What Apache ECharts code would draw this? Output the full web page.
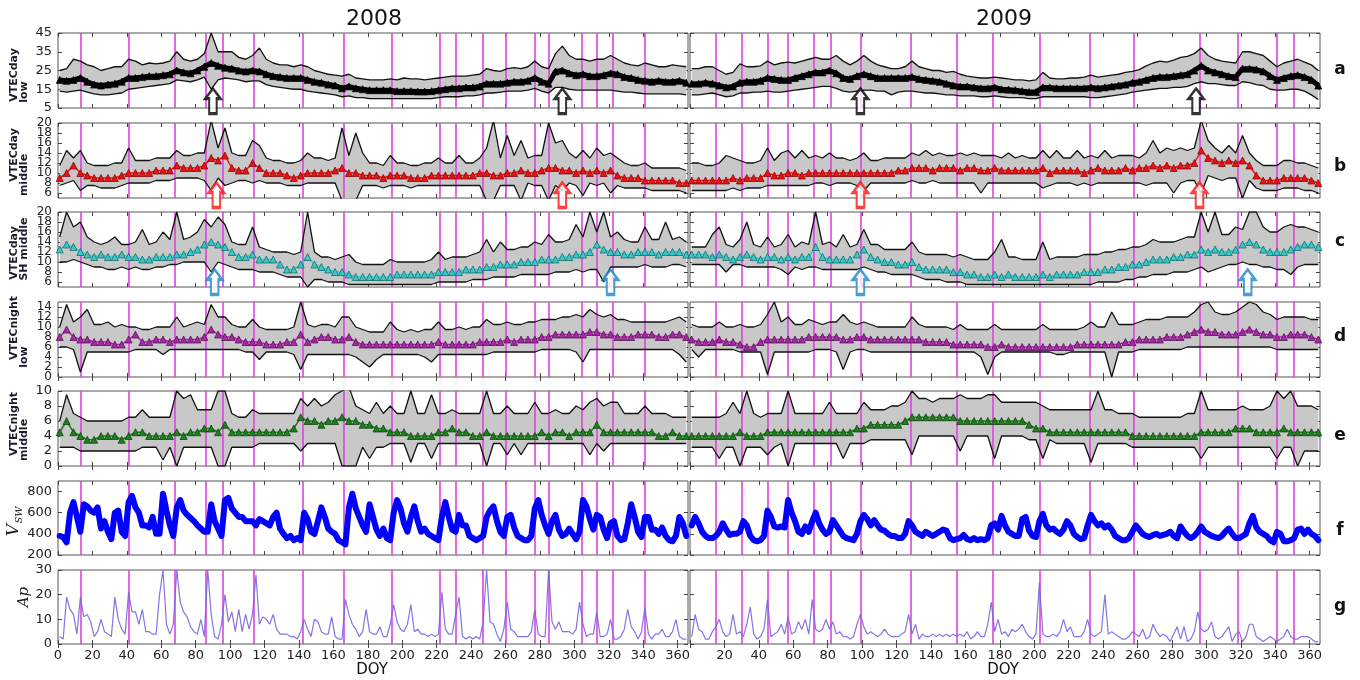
<!DOCTYPE html>
<html><head><meta charset="utf-8">
<script src="https://cdn.jsdelivr.net/npm/echarts@6/dist/echarts.min.js"></script>
<style>html,body{margin:0;padding:0;background:#fff}#c{width:1360px;height:680px}</style>
</head><body><div id="c"></div>
<script>
// ---------------- DATA (VTEC panels sampled every 4 days starting DOY 1) ----------------
const a08m=[20,19.5,20,21,19,17.5,17,17.5,18,19,21,21,21.5,22,22,22.5,23,25,24,23.5,25,27,29,27.5,26.5,26,25,24.5,25,24.5,23,22,21.5,21,21,21,20,19,18.5,17.5,17,15.5,16.5,15.5,15,14.5,14.5,14.5,14.5,14,14,14,13.8,13.8,14,14.5,15,15.5,15.5,16,16,16.5,18,18,18,18.5,19,19,19.5,21,19,18,24.5,25,23.5,22.5,23,22,22,22.5,23.5,23,21.5,21,20,19.5,19,19.5,19,19,19.5,18.5];
const a08u=[25,26,31,30,28,27,25,26,27,27,31,30,28,29,28.5,29,30,35,31,30,31,34,45,35,35,35,32,31,33,37,31,29,28,28,27,28,27,25,24,23,22.5,22,23,21,20.5,20,20,20,20.5,20,21,20.5,20.5,20,20.5,21,21.5,22,22,22,22.5,23,26,25,24.5,26,26.5,26,27,30,27,26,34,38,33,31,31,30,31,31,33,31,29,28,27.5,29,28,27,27,28,27.5,27];
const a08l=[14,13.5,14,14.5,13.5,12.5,12,12,12.5,13,15,15.5,16,16.5,17,17.5,18,20,19.5,19,20,21.5,15,20,21,20.5,20,19,19.5,19.5,17.5,16.5,16,15.5,15,15,14,13.5,13,12.5,12,11,11.5,10.5,10.5,10,10,10,10,10,10,10,10,10,10,10.5,11,11,11,11.5,11.5,12,13,13,13.5,14,14,14,14.5,15.5,14,13,16,16,15,14.5,14.5,14.5,14.5,14.5,14.5,14,13.5,13.5,13,12.5,12.5,12.5,12.5,12.5,12.5,12];
const a09m=[18,18,18.5,18,17,16,16.5,18.5,19,19,19.5,21,20.5,20,20,21,22,23,24,24,25,23.5,21,20.5,22,23,22,21,21,21,21,21,21.5,20.5,20,19.5,19,18,17,16.5,16.5,16,15.5,15.5,16,15,14.8,14.5,14,13.5,13.5,16,16,15.5,15.5,15.5,15.5,15.5,16,15.5,16,16.5,17,17.5,18.5,19,20,21,21.5,21.5,22,22.5,23,25,27.5,25,24,23,22,21.5,26,26,25.5,24.5,22,20,21,22,22.5,21.5,20,17];
const a09u=[26,26,27,27,25,23,24,28.5,27,27,27.5,30,28,29,29.5,29,30,31,32,31,31,33,30,28,30,33,30,28,27,26,26,27,30,27,26,25,25,24,24.5,23,22,21.5,21,21,21.5,21,20.5,20,20,19.5,20,24,21,20.5,20.5,21,21,21.5,22.5,21.5,22,22.5,23,24,24.5,25.5,27.5,29,30,29.5,30.5,32,32.5,34,37,33,31,30,29.5,29,35,35,34,33,30,27,29,30,31,29.5,28,25];
const a09l=[12,12,12.5,13,12,11,11.5,13,13,13.5,13.5,14,13.5,13.5,14,14.5,15,15.5,16,16.5,16.5,15.5,14,13.5,14,14.5,14.5,14,14,12,13.5,14,14,13.5,13,13,12.5,12,12,11.5,11.5,11.5,11,11,11.5,11,10.5,10.5,10.5,10,10,11,11,11,11,11,11,11,10.5,10.5,11,11.5,12,12.5,13.5,14,14.5,15,15.5,15.5,16,16,16.5,18,19,18,18,17.5,17,17,19,18.5,17.5,17,15,14.5,14.5,15,15,14,12,9.5];

const b08m=[9,10,11.5,10,9.5,9,9,9,9,9.5,10,10,10,10,10.5,10.5,10.5,11.5,11,11,11,11.5,13,12.5,13.5,11,10.5,10.5,12,11,10,10,10,9.5,9,9.5,10,10,10,10,10.5,11,10,10,9.5,9.5,9.5,9,9.5,9.5,9.5,9,9,9,9.5,9.5,9.5,9.5,9.5,9.5,9.5,10,10,9.5,9.5,10,10,10.5,10,10,10.5,11,11,10.5,10.5,10,10.5,10,10.5,10,10.5,9.5,9,9,9,8.5,8.5,8.5,8.5,8.5,8,8];
const b08u=[11.5,14.5,13,14.5,12,11.5,11.5,11.5,12,12,15,12.5,12.5,12.5,13,13,13,14.5,13.5,13.5,14,14,20.5,15,19,14,13.5,13.5,16.5,15.5,13,12.5,12.5,12,12,12.5,14,13,13,12.5,13,19,13.5,18,14,12,12,11.5,13.5,12,12,11.5,11.5,12,12,13,12,12,13.5,12,12,13,15,20.5,13,17.5,13.5,16.5,13,13.5,13.5,20,16,16.5,14,13,14.5,13,15,13.5,14,13,12,11.5,11.5,12,11,11,11,11,11,10.5];
const b08l=[7.5,8,8.5,6.5,7.5,7.5,7,7,7,7.5,8,8,8,8,8.5,8.5,8.5,9,9,9,9,8.5,6.5,9,7.5,8,8.5,8.5,8,8.5,8,8,8,7.5,7.5,7.5,8,8,8,8,8,4.5,4.5,4.5,7.5,7.5,7.5,7,7.5,7.5,7.5,7,7.5,7.5,7.5,7.5,7.5,7.5,7.5,7.5,7.5,7.5,4.5,4.5,7.5,7.5,7.5,4.5,8,7.5,7.5,4.5,7.5,6.5,8,7.5,5.5,8,7.5,8,6,7.5,7,7,7,7,6.5,6.5,6.5,6.5,6.5,6];
const b09m=[8.5,8.5,8.5,8.5,8.5,8.5,9,8.5,9,9,9,10,9.5,9.5,10,10,9.5,10,10,10,10,10,10,10,10,10,10,10,10,10,10.5,10.5,11,11,11,10.5,11,11,11,10.5,11,11,10.5,10.5,11,10.5,10.5,10.5,10.5,10.5,10.5,11,10,10.5,10.5,10.5,10.5,10,10.5,11,10.5,10.5,10.5,11,10.5,11,11,11.5,11,11.5,11,11.5,11.5,12,14.5,13,12.5,12,12.5,12,12.5,11.5,9.5,8.5,8.5,8.5,9,9,9,9,8.5,8];
const b09u=[12,12,11.5,11.5,12,13.5,13,12.5,12,12,12.5,15,12.5,14,14.5,13,14.5,13,13.5,13,14,13,13,12.5,13,14,12.5,12.5,13,13,13,13,14,13.5,14.5,13.5,14,13.5,13.5,14,13.5,14,13.5,13.5,13.5,13,14,13,13.5,13,13,14.5,13,14.5,13,13,14.5,13,13.5,13,14.5,13,13.5,13.5,13.5,13,14,16.5,14,15,14.5,15,14.5,15,20.5,16.5,15,14,15.5,14,17.5,14,12.5,11.5,11.5,11.5,12.5,12.5,12,12,11.5,11];
const b09l=[6.5,6.5,6.5,6.5,6.5,6.5,7,6.5,7,7,7,7.5,7.5,7.5,7.5,7.5,7.5,7.5,8,8,7.5,8,8,8,7.5,6.5,8,8,8,8,8,8,8.5,8,8,8.5,8,8,8,8,8,8,6,8,8,8,8,8,8,8,8,7,7.5,8,8,8,7.5,8,7.5,8,8,8,8,8,8,8,7.5,8,8,8,6,8,8.5,8.5,6,9.5,9,8.5,9,9,5,8.5,7,6.5,6.5,6.5,7,7,7,6.5,6.5,6];

const c08m=[12.5,13.5,13,12,11.5,11,11.5,11,11,11.5,11,11,10.5,10.5,11,11,11,11.5,11.5,12,12.5,13.5,14,13.5,13,12,11,11,11.5,10.5,10.5,10.5,9.5,8.5,8.5,9.5,11,9.5,9,8.5,8,8,7.5,7,7,7,7,7,7,7.5,7.5,7.5,7.5,7.5,7.5,8,8,8,8,8.5,8.5,8.5,9,9,9.5,9.5,9.5,10,10,10,10.5,10.5,10.5,11,11,11.5,11.5,12,13.5,12.5,12,12,11.5,11.5,12,12,12,11.5,12,12,12,11.5];
const c08u=[15,20,17,18,15,14,13.5,14,15,13.5,13.5,14,16.5,13.5,14,16,14.5,20,14.5,15,16,18.5,17,19,17.5,14,13.5,13.5,17,13,12.5,12,12,12,11.5,12,20,12,11,11,10.5,11,11.5,10,9.5,9.5,9.5,9.5,10.5,10,10,10,10,10,10.5,12,10.5,11,11,11,11.5,12,14.5,12,14,12.5,12.5,13,13,14,13.5,15.5,14,14,14.5,17.5,15,20,16,20,15,16,14.5,14,14,17,14.5,14.5,18,14.5,15,14];
const c08l=[10,10,10.5,10,9.5,9,9,8.5,8.5,9,8.5,9,8.5,8.5,9,9,9.5,9.5,10,10,10,10,8,10,9.5,9,8.5,8.5,8.5,8,8,8,7.5,7,7,7,5,6.5,6.5,6,6,6,5.5,5.5,5.5,5.5,5.5,5.5,5.5,5.5,5.5,5.5,5.5,5.5,5.5,6,6,6,6,6,6.5,6.5,6.5,7,7,7,7,7.5,7.5,7.5,7.5,7.5,8,8,8,8.5,8,8.5,8.5,6,9,9,9,9,9,9.5,9,9,9,9.5,9.5,9];
const c09m=[11.5,11.5,11.5,11,11.5,11,10.5,11,11.5,11,10.5,11,11,10.5,11,10.5,11,11,13,11,10.5,10.5,10.5,10.5,11.5,12.5,11,10.5,10,10,9.5,9.5,10,9,8.5,8.5,8.5,8.5,8,8,7.5,7.5,7,7,7.5,7,7.5,7,7,7,7,7.5,7,7.5,7.5,7.5,7.5,8,8,8,8.5,8.5,9,9,9.5,9.5,10,10.5,10.5,10.5,11,11,11.5,11.5,12.5,12,12.5,12,12,12.5,13.5,14,13.5,12.5,12,12,12,12.5,13,13.5,13.5,13];
const c09u=[13,13,13,15.5,17,13.5,13,14.5,18,13.5,13,15,13,13.5,15.5,13,14,13.5,20,13.5,14,13,15.5,13,13.5,16.5,13.5,13.5,12.5,12.5,12.5,12.5,14,12,11.5,11.5,11.5,11.5,11,11.5,11,10.5,10.5,10.5,12,14.5,11,11,10.5,10.5,10.5,14,10.5,11,11,11,11,11.5,11.5,11.5,12,12,12.5,12.5,13,13,13.5,14.5,14,14,14,14.5,15,15,20,16,20,15.5,15.5,17,16.5,20,20,17,16,16,17,17.5,17,17,16.5,16];
const c09l=[9.5,9.5,9.5,9.5,9.5,8,9.5,9.5,9,9,9,9,9,8.5,7.5,9,8.5,9,9,8.5,8.5,8.5,8.5,8.5,8.5,9,8.5,8,8,7.5,7.5,7.5,7.5,7,6.5,6.5,6.5,6,6,6,5.5,5.5,5.5,5.5,5.5,5.5,5.5,5.5,5.5,5.5,5.5,5.5,5.5,5.5,5.5,5.5,5.5,5.5,5.5,6,6,6,6,6.5,6.5,7,7,7.5,7.5,7.5,8,8,8,8.5,9,8,8.5,9,9.5,9.5,10,9.5,9.5,9,9,8.5,8.5,7.5,9,9.5,9.5,9.5];

const d08m=[8,9.5,8,7.5,7.5,7,7,7,6.5,6.5,7.5,8.5,7,7,7.5,7.5,7,7.5,7.5,7.5,7.5,8,9.5,8.5,8,8,7.5,7,7,7,6.5,6.5,6.5,7,7,8.5,7,7.5,8,8,7.5,7.5,8,7,6.5,6.5,6.5,6.5,6.5,6.5,6.5,6.5,6.5,6.5,6.5,7,6.5,6.5,6.5,6.5,6.5,7,7,7,7,7.5,7,7.5,7.5,7.5,8,8,8.5,8.5,8.5,8.5,8.5,9,9,8.5,8.5,8,8,8,8.5,8.5,8.5,8,8,8.5,8.5,8];
const d08u=[10,14.5,11,12,13.5,10.5,10.5,11,10,10.5,10,10,9.5,9.5,10,10,10,12,10,10.5,11,10.5,14.5,12,12,10.5,10,10,11.5,10,9.5,9.5,9.5,9.5,10,15,10.5,10,10.5,10.5,10,12,12,10,9.5,9,9,9,11,9.5,9,9.5,9,9.5,9.5,11,9.5,9.5,10,9.5,10,10,11.5,10.5,10.5,11,10.5,10.5,11,11,11.5,11.5,11.5,12,12,12.5,12,13.5,12.5,12,12.5,11.5,11.5,11,11,11,11,11,11,11.5,12,11];
const d08l=[6,6,5.5,1,5,5,5,5,5,5,5,5.5,5.5,5.5,5.5,4.5,5.5,5.5,5.5,5.5,5.5,5.5,5.5,5.5,5.5,5.5,5.5,5,5,3.5,5,5,5,5,4.5,1.5,4.5,4.5,4.5,4.5,4.5,4.5,4.5,4,3,2,3.5,4.5,4.5,4.5,4.5,4.5,4.5,4,3,4.5,4.5,4.5,4.5,4.5,4.5,4.5,4.5,5,5,5,5,5,5,5,5.5,5.5,5.5,5.5,5.5,5,3,5.5,5.5,5.5,5.5,5.5,5.5,5.5,5.5,5.5,5.5,5.5,5.5,5.5,4.5,3];
const d09m=[7.5,7,7,7,7.5,7,7,6.5,6,6,7,7.5,7.5,7.5,7.5,7.5,7.5,8,8,8,8,8,7.5,7.5,8,8,7.5,7.5,7.5,7.5,7.5,7.5,7.5,7.5,7,7,7,7,6.5,6.5,6.5,6.5,6.5,6,6,6.5,6,6,6,6,6,6,6,6,6,6,6.5,6.5,6.5,6.5,6.5,6.5,6.5,7,7,7.5,7.5,7.5,7.5,8,8,8,8.5,9,9.5,9,9,8.5,8.5,8.5,9,9.5,9,8.5,8.5,8,8,8.5,8.5,8.5,8,7.5];
const d09u=[10.5,10,10,10,11,10,10,10.5,10,10,10.5,12.5,15,11,12,10.5,10.5,11.5,11,10.5,11,11,12.5,11,10.5,11,10.5,10,10,10,10,10,12,10.5,10,10,10,10,9.5,10.5,9.5,9.5,9.5,9.5,10.5,9.5,9.5,9.5,9.5,9.5,9.5,10.5,9.5,9.5,9.5,9.5,9.5,10,11,10,10,13,10.5,10.5,10.5,11,11.5,11.5,11.5,12,12,12,12,13,14.5,15,13,12.5,12.5,13,14,15,14.5,13,12.5,11.5,12,12,12,12,11.5,11.5];
const d09l=[5.5,4,5.5,5.5,5.5,5.5,5.5,5,5,5,5,0.5,5,5,5,5,5,5,5.5,5.5,5.5,5,1.5,5,5.5,5.5,5,5,5,5,5,5,5,5,5,5,5,5,5,5,5,5,4,0.5,4,5,5,5,5,5,5,5,5,4.5,4.5,5,5,5,5,5,5,0,5,5,5,5.5,5.5,5.5,5.5,5.5,5.5,5.5,6,6,6,6,6,6,6,6,6,6,6,6,6,5.5,5.5,5.5,5.5,5.5,5.5,5.5];

const e08m=[4.5,6,4.5,4,3.5,3.5,4,4,4,3.5,4,4.5,4.5,4,4,4,4,4.5,4,4.5,4.5,5,5,4.5,5.5,4.5,4.5,4.5,4.5,4.5,4.5,4.5,4.5,4.5,5,6.5,6,6,5.5,6,6,6.5,6,6,5.5,5.5,5,5,4.5,4.5,4.5,4,4,4,4,4.5,4.5,5,4.5,4.5,4,4,4.5,4,4,4,4,4,4,4,4.5,4,4.5,4.5,4,4.5,4.5,4.5,5.5,4.5,4.5,4.5,4.5,4.5,4.5,4.5,4.5,4,4,4.5,4,4];
const e08u=[6,9.5,7,6.5,6,6,6,6,6,6,6.5,6.5,7.5,6.5,6.5,6.5,6.5,10,9,9.5,7.5,7.5,7.5,10,10,7,6.5,6.5,7.5,7,7,7,7,7,7,9,8,9,8,8.5,9.5,10,10.5,8,7.5,7,8.5,7,8,7,7,10,7,7,9.5,7,7,7.5,7,7,7,7,10,7,7,8,7,7,7,8.5,7,7,7.5,7,7,8,7.5,8.5,9,8,8.5,8.5,7,7,7,8,7,7,7,6.5,6.5,6.5];
const e08l=[2.5,2.5,2.5,2,2,2,2,2,2,2,2,2,2.5,2.5,2.5,0.8,2.5,0,2.5,2.5,2.5,2.5,2.5,0,0,2.5,2.5,2.5,2.5,3,3,3,3,3,3,2,3,3,3,3,3,0,0,0,2.5,1,2.5,2.5,3,3,3,0.5,3,3,1,3,3,3,3,3,3,3,0,3,3,1.5,3,1.5,3,3,3,3,3,3,3,3,3,1.5,3,2,3,3,3,3,3,3,3,3,3,3,3,3];
const e09m=[4,4,4,4,4,4,4,4.5,4,4,4,4.5,4.5,4.5,4.5,4.5,4.5,4.5,4.5,4.5,4.5,4.5,4.5,4.5,5,5,5.5,5.5,5.5,5.5,5.5,6,6.5,6.5,6.5,6.5,6.5,6.5,6.5,6,6,6,6,6,6,6,6,6,6,5.5,5,5,4.5,4.5,4.5,4.5,4.5,4.5,4.5,4.5,4.5,4.5,4.5,4.5,4,4,4,4,4,4,4,4,4,4,4.5,4.5,4.5,4.5,4.5,5,5,5,4.5,4.5,4.5,4.5,5,4.5,4.5,4.5,4.5,4.5];
const e09u=[6.5,6.5,6.5,6.5,6.5,7,8.5,7,10,7,6.5,7,7,7,10,7,7,7,7,7,8.5,7,7,7,7,8.5,7.5,7.5,7.5,8,8,8.5,10,9,9,8.5,9,9,9,9.5,9,9,9,9.5,9.5,8.5,8.5,8.5,8.5,8.5,8.5,8,7.5,7.5,7.5,7.5,7.5,7.5,7.5,10,7.5,7.5,7,7,7,6.5,6.5,6.5,6.5,6.5,6.5,6.5,7,7,10,7.5,7.5,7.5,7.5,7.5,8,7.5,7.5,7.5,8,10,9,10,8,8,8,7.5];
const e09l=[2.5,2.5,2.5,2.5,1,2.5,2.5,0,2.5,2.5,2.5,1.5,2.5,3,0,3,3,3,3,3,3,3,1,3,3,3,3.5,3.5,3.5,3.5,3.5,3.5,1.5,4,4,4,4,4,4,2,4,4,4,4,1,4,4,4,4,3.5,3.5,1,3.5,3,3,3,3,3,0.5,3,3,3,3,3,2.5,2.5,2.5,2.5,2.5,2.5,2.5,2.5,2.5,2.5,1,2.5,2.5,2.5,2.5,2.5,2.5,2.5,2.5,2.5,2.5,1,2.5,2.5,0,2,2,2];

// ---------------- DATA (Vsw and Ap sampled every 2 days starting DOY 1) ----------------
const vsw08=[380,370,320,600,700,560,420,680,660,620,600,650,450,520,420,350,600,620,420,380,700,760,650,600,480,480,460,560,400,400,780,620,480,380,650,720,620,580,550,520,480,450,420,420,680,520,450,380,720,740,640,600,560,560,520,520,520,480,540,520,500,480,560,600,450,400,360,380,340,360,340,600,540,420,400,520,650,560,450,420,400,340,320,300,650,780,640,560,480,420,680,560,440,380,450,360,340,600,720,640,500,420,560,660,520,420,450,400,380,360,340,560,700,560,440,420,580,480,480,380,360,340,360,380,560,620,660,520,420,380,560,580,460,380,360,340,340,380,640,720,580,480,400,520,580,440,380,400,450,400,350,420,720,660,540,440,580,560,440,360,500,520,380,340,350,500,680,560,420,370,560,560,440,440,400,460,380,340,330,380,560,500,380];
const vsw09=[480,560,500,420,380,360,360,380,420,500,440,390,400,400,420,520,480,380,340,330,340,380,620,560,470,460,470,460,720,600,520,420,400,470,420,520,600,500,440,400,420,530,480,430,380,360,350,340,400,520,580,540,480,530,480,440,430,400,380,380,360,360,400,520,480,420,400,380,420,400,380,400,420,440,430,360,340,350,360,390,350,340,360,340,350,340,360,480,500,440,570,480,420,400,380,380,540,560,430,380,370,520,590,480,440,450,420,400,440,520,480,400,370,350,360,480,580,520,480,500,460,480,440,380,360,340,340,360,420,480,440,400,380,370,390,400,380,390,400,420,380,360,470,420,380,360,380,420,470,420,400,380,370,360,380,420,450,400,360,360,380,400,500,570,460,420,400,380,340,320,420,400,330,330,340,360,440,450,400,440,400,380,340];
const ap08=[3,2,19,14,12,4,19,11,12,9,3,5,10,5,4,3,19,10,6,4,21,13,13,8,14,5,5,4,4,20,30,8,4,8,30,17,13,11,7,5,4,10,3,30,12,3,2,8,20,9,13,5,14,5,12,6,12,28,8,11,10,8,12,6,4,4,4,3,3,2,5,10,6,3,10,9,5,4,4,11,3,2,2,18,12,8,6,3,5,14,5,4,4,7,3,3,8,16,9,6,5,8,16,5,6,4,4,3,4,3,4,21,6,4,4,12,19,3,2,3,2,3,2,9,30,9,8,4,1,6,17,6,5,3,3,3,3,5,14,4,3,3,30,9,6,9,5,5,5,4,6,17,8,3,4,4,13,3,3,4,10,2,2,3,6,14,7,5,2,5,15,4,2,4,4,6,3,3,5,10,3,2,2];
const ap09=[3,12,6,5,2,2,5,7,10,5,3,4,12,4,5,3,8,15,4,2,3,6,18,3,4,5,8,4,11,4,5,9,6,10,4,18,6,5,6,10,6,9,4,5,3,3,2,3,8,12,7,4,5,4,3,4,6,4,3,3,3,4,5,12,4,8,2,4,3,3,4,3,4,3,4,3,4,3,4,3,5,2,3,5,3,3,8,17,5,10,4,5,3,6,5,6,8,5,3,2,4,25,4,3,3,4,3,5,10,5,7,3,3,3,5,10,4,3,4,5,20,4,5,4,3,2,2,3,5,4,3,6,2,3,8,5,3,4,3,1,4,7,2,7,1,2,5,13,6,5,6,9,3,2,3,5,7,1,4,5,1,3,8,8,3,2,1,2,3,2,1,2,3,6,3,2,2,3,3,3,2,1,1];

// storm-onset vertical markers (DOY) and arrow DOYs
const vLines08=[13,41,68,86,96,114,142,166,194,222,231,247,260,277,285,304,313,322,341];
const vLines09=[15,30,45,57,72,82,99,128,155,176,203,232,258,296,318,341,351];
const arrA=[[90,293],[99,294]];
const arrB=[[92,293],[99,296]];
const arrC=[[91,321],[99,324]];

// tick labels
const xTicks=[0,20,40,60,80,100,120,140,160,180,200,220,240,260,280,300,320,340,360];
const xLabels2009=[20,40,60,80,100,120,140,160,180,200,220,240,260,280,300,320,340,360];
const yTicks=[[5,15,25,35,45],[6,8,10,12,14,16,18,20],[6,8,10,12,14,16,18,20],[0,2,4,6,8,10,12,14],[0,2,4,6,8,10],[200,400,600,800],[0,10,20,30]];
const yRange=[[5,45],[5,20],[5,20],[0,15],[0,10],[200,900],[0,30]];
const yNames=[['VTECday','low'],['VTECday','middle'],['VTECday','SH middle'],['VTECnight','low'],['VTECnight','middle']];
const panelLetters=['a','b','c','d','e','f','g'];
const years=['2008','2009'];

// ---------------- LAYOUT / STYLE ----------------
const COLS=[58,690], PW=630;
const ROWS=[[33,75],[123,75],[212,75],[302,75],[391,75],[481,74],[570,74]];
const yFont=[13,12,12,12,13,13,13];
const vt=[
 {m:[a08m,a09m],u:[a08u,a09u],l:[a08l,a09l],c:'#000000',bc:'#000000',lw:5,ss:7},
 {m:[b08m,b09m],u:[b08u,b09u],l:[b08l,b09l],c:'#ee1111',bc:'#7a0000',lw:1.5,ss:7},
 {m:[c08m,c09m],u:[c08u,c09u],l:[c08l,c09l],c:'#35c9c9',bc:'#0f5f5f',lw:1.5,ss:7},
 {m:[d08m,d09m],u:[d08u,d09u],l:[d08l,d09l],c:'#a828a8',bc:'#4a0a4a',lw:1.5,ss:7},
 {m:[e08m,e09m],u:[e08u,e09u],l:[e08l,e09l],c:'#1f801f',bc:'#0a3a0a',lw:1.5,ss:7}
];
const arrows=[{d:arrA,y:8.7,c:'#000000'},{d:arrB,y:5.6,c:'#ff1010'},{d:arrC,y:6,c:'#1a86c8'}];
const ARROW='path://M7,0 L14,10 L10.5,10 L10.5,25 L3.5,25 L3.5,10 L0,10 Z';
const FONT='"DejaVu Sans", sans-serif';

function pts(a,step){return a.map((v,i)=>[1+step*i,v]);}
function bandSeries(up,lo,step,xi,yi,ymin,ymax){
 const cl=v=>Math.max(ymin,Math.min(ymax,v));
 return {type:'custom',xAxisIndex:xi,yAxisIndex:yi,z:2,silent:true,data:[[1,ymin]],
  renderItem:function(params,api){
   const p=[];
   for(let i=0;i<up.length;i++) p.push(api.coord([1+step*i,cl(up[i])]));
   for(let i=lo.length-1;i>=0;i--) p.push(api.coord([1+step*i,cl(lo[i])]));
   return {type:'polygon',shape:{points:p},style:{fill:'#c8c8c8',stroke:null}};
  }};
}

const grid=[],xAxis=[],yAxis=[],series=[];
for(let r=0;r<7;r++){
 for(let c=0;c<2;c++){
  const k=r*2+c;
  grid.push({left:COLS[c],top:ROWS[r][0],width:PW,height:ROWS[r][1],show:true,borderColor:'#555',borderWidth:1,backgroundColor:'#fff'});
  const tickBase={inside:true,length:4,lineStyle:{color:'#444',width:1}};
  xAxis.push({gridIndex:k,type:'value',min:0,max:366,position:'bottom',axisLine:{show:false},splitLine:{show:false},
    axisTick:Object.assign({customValues:xTicks},tickBase),
    axisLabel:{show:r===6,customValues:(c===0?xTicks:xLabels2009),showMinLabel:true,showMaxLabel:true,fontSize:13,color:'#222',margin:5,fontFamily:FONT}});
  xAxis.push({gridIndex:k,type:'value',min:0,max:366,position:'top',axisLine:{show:false},splitLine:{show:false},
    axisTick:Object.assign({customValues:xTicks},tickBase),axisLabel:{show:false}});
  // two left axes share the same place: alternating labels so none is dropped for overlap
  const setA=yTicks[r].filter((v,i)=>i%2===0), setB=yTicks[r].filter((v,i)=>i%2===1);
  const lab=(vals)=>({show:c===0,customValues:vals,showMinLabel:true,showMaxLabel:true,hideOverlap:false,fontSize:yFont[r],color:'#222',margin:6,fontFamily:FONT});
  yAxis.push({gridIndex:k,type:'value',min:yRange[r][0],max:yRange[r][1],position:'left',axisLine:{show:false},splitLine:{show:false},
    axisTick:Object.assign({customValues:yTicks[r]},tickBase),axisLabel:lab(setA)});
  yAxis.push({gridIndex:k,type:'value',min:yRange[r][0],max:yRange[r][1],position:'left',axisLine:{show:false},splitLine:{show:false},
    axisTick:{show:false},axisLabel:lab(setB)});
  yAxis.push({gridIndex:k,type:'value',min:yRange[r][0],max:yRange[r][1],position:'right',axisLine:{show:false},splitLine:{show:false},
    axisTick:Object.assign({customValues:yTicks[r]},tickBase),axisLabel:{show:false}});
  const xi=2*k, yi=3*k;
  const vl=(c===0?vLines08:vLines09);
  const mk={symbol:'none',silent:true,z:4,label:{show:false},lineStyle:{color:'#dd44dd',width:1.6,type:'solid'},data:vl.map(d=>({xAxis:d}))};
  if(r<5){
   const P=vt[r];
   series.push(bandSeries(P.u[c],P.l[c],4,xi,yi,yRange[r][0],yRange[r][1]));
   series.push({type:'line',xAxisIndex:xi,yAxisIndex:yi,data:pts(P.l[c],4),symbol:'none',z:5,
     lineStyle:{color:'#111',width:1.3},markLine:mk});
   series.push({type:'line',xAxisIndex:xi,yAxisIndex:yi,data:pts(P.u[c],4),symbol:'none',z:5,lineStyle:{color:'#111',width:1.3}});
   series.push({type:'line',xAxisIndex:xi,yAxisIndex:yi,data:pts(P.m[c],4),symbol:'triangle',symbolSize:P.ss,z:6,
     lineStyle:{color:P.c,width:P.lw},itemStyle:{color:P.c,borderColor:P.bc,borderWidth:0.7}});
   if(r<3){
     const A=arrows[r];
     series.push({type:'scatter',xAxisIndex:xi,yAxisIndex:yi,clip:false,z:8,symbol:ARROW,symbolSize:[15,25],
       data:A.d[c].map(d=>[d,A.y]),itemStyle:{color:'#fff',borderColor:A.c,borderWidth:2.6}});
   }
  } else if(r===5){
   series.push({type:'line',xAxisIndex:xi,yAxisIndex:yi,data:pts(c===0?vsw08:vsw09,2),symbol:'none',z:6,
     lineStyle:{color:'#0000ff',width:6,join:'round',cap:'round'},markLine:mk});
  } else {
   series.push({type:'line',xAxisIndex:xi,yAxisIndex:yi,data:pts(c===0?ap08:ap09,2),symbol:'none',z:6,
     lineStyle:{color:'#7566e0',width:1.2,opacity:0.9},markLine:mk});
  }
 }
}

function txt(x,y,t,font,rot,fill){
 return {type:'text',x:x,y:y,rotation:rot||0,silent:true,z:100,
   style:{text:t,font:font,fill:fill||'#111',align:'center',verticalAlign:'middle',textAlign:'center',textVerticalAlign:'middle'}};
}
const graphic=[];
graphic.push(txt(374,19,years[0],'22px '+FONT,0,'#111'));
graphic.push(txt(1004,19,years[1],'22px '+FONT,0,'#111'));
graphic.push(txt(372,670,'DOY','15px '+FONT,0,'#111'));
graphic.push(txt(1003,670,'DOY','15px '+FONT,0,'#111'));
const nameCenters=[[[14,75],[24,92]],[[14,155],[24,175]],[[14,253],[24,249]],[[14,328],[24,357]],[[14,424],[24,440]]];
for(let r=0;r<5;r++){
 graphic.push(txt(nameCenters[r][0][0],nameCenters[r][0][1],yNames[r][0],'bold 11px '+FONT,Math.PI/2,'#1c1c2c'));
 graphic.push(txt(nameCenters[r][1][0],nameCenters[r][1][1],yNames[r][1],'bold 11px '+FONT,Math.PI/2,'#1c1c2c'));
}
graphic.push(txt(14,530,'V','italic 17px "DejaVu Serif", serif',Math.PI/2,'#222'));
graphic.push(txt(19,515,'SW','italic 10px "DejaVu Serif", serif',Math.PI/2,'#222'));
graphic.push(txt(24,597,'Ap','italic 15px "DejaVu Serif", serif',Math.PI/2,'#222'));
const letterY=[70,167,242,337,436,531,607];
for(let r=0;r<7;r++) graphic.push(txt(1340,letterY[r],panelLetters[r],'bold 17px '+FONT,0,'#111'));

const chart=echarts.init(document.getElementById('c'),null,{renderer:'canvas'});
chart.setOption({animation:false,backgroundColor:'#fff',grid,xAxis,yAxis,series,graphic});
</script></body></html>
